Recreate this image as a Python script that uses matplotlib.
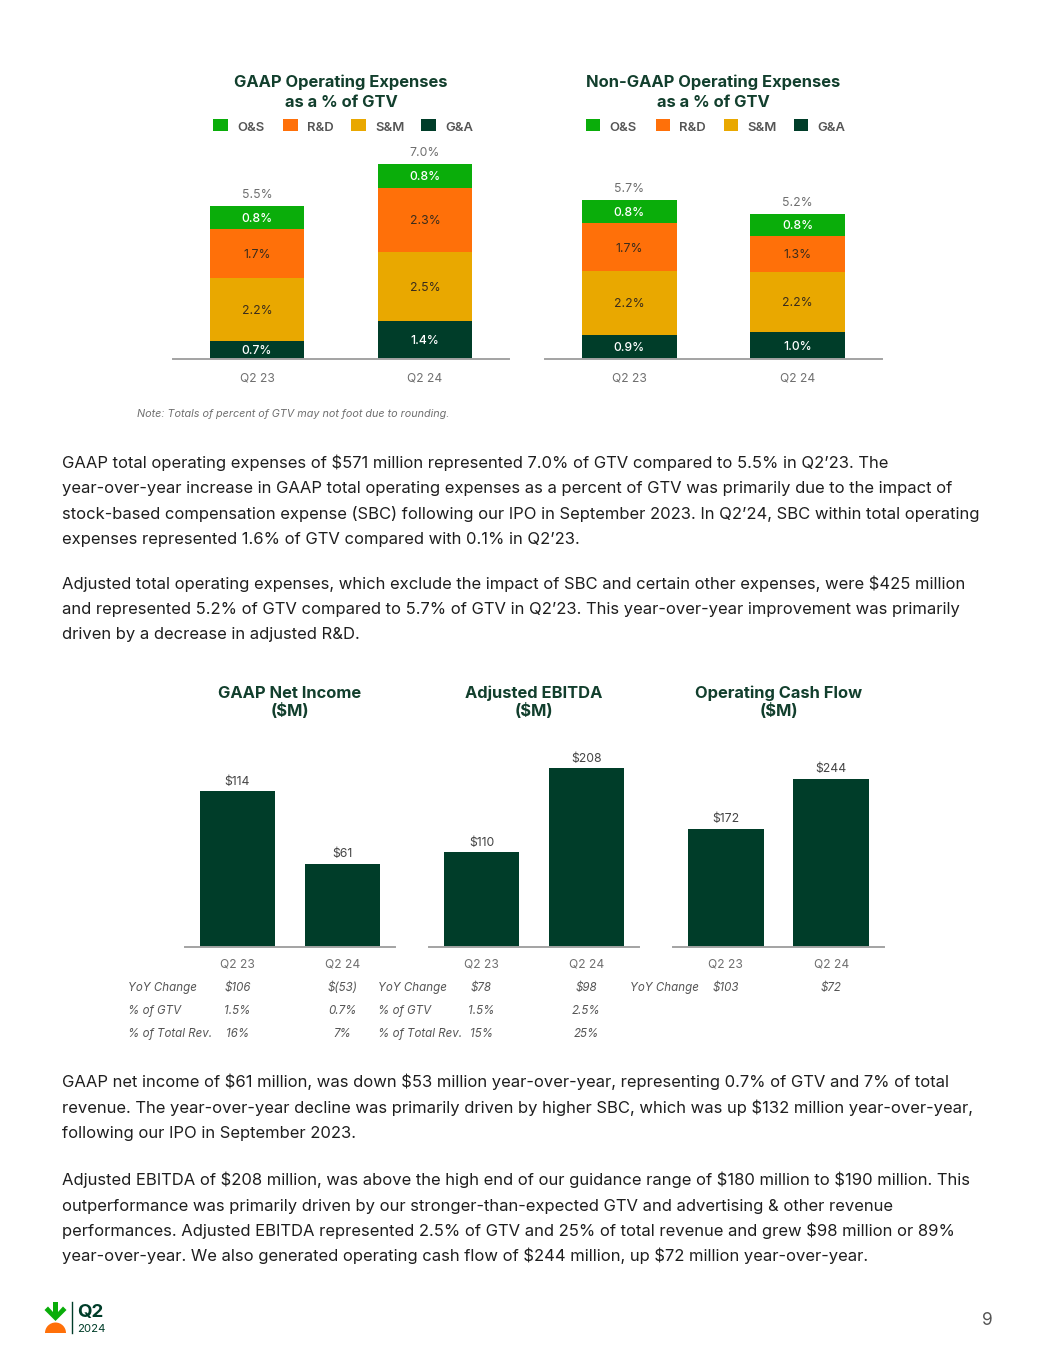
import numpy as np
import matplotlib
matplotlib.use("Agg")
import matplotlib.pyplot as plt
import matplotlib.transforms as mtransforms
from matplotlib.patches import Rectangle, Polygon, Wedge
from matplotlib.lines import Line2D

# ---------------- data ----------------
quarters = ["Q2 23", "Q2 24"]
legend_order = ["O&S", "R&D", "S&M", "G&A"]
stack_order = ["G&A", "S&M", "R&D", "O&S"]

gaap_os = [0.83, 0.86]
gaap_rd = [1.76, 2.30]
gaap_sm = [2.26, 2.48]
gaap_ga = [0.65, 1.36]
gaap_os_labels = ["0.8%", "0.8%"]
gaap_rd_labels = ["1.7%", "2.3%"]
gaap_sm_labels = ["2.2%", "2.5%"]
gaap_ga_labels = ["0.7%", "1.4%"]
gaap_total_labels = ["5.5%", "7.0%"]

nongaap_os = [0.82, 0.79]
nongaap_rd = [1.72, 1.29]
nongaap_sm = [2.29, 2.15]
nongaap_ga = [0.86, 0.97]
nongaap_os_labels = ["0.8%", "0.8%"]
nongaap_rd_labels = ["1.7%", "1.3%"]
nongaap_sm_labels = ["2.2%", "2.2%"]
nongaap_ga_labels = ["0.9%", "1.0%"]
nongaap_total_labels = ["5.7%", "5.2%"]

net_income = [114, 61]
net_income_labels = ["$114", "$61"]
adj_ebitda = [110, 208]
adj_ebitda_labels = ["$110", "$208"]
op_cash_flow = [172, 244]
op_cash_flow_labels = ["$172", "$244"]

ni_table = [("YoY Change", "$106", "$(53)"),
            ("% of GTV", "1.5%", "0.7%"),
            ("% of Total Rev.", "16%", "7%")]
ebitda_table = [("YoY Change", "$78", "$98"),
                ("% of GTV", "1.5%", "2.5%"),
                ("% of Total Rev.", "15%", "25%")]
ocf_table = [("YoY Change", "$103", "$72")]

para1 = ["GAAP total operating expenses of $571 million represented 7.0% of GTV compared to 5.5% in Q2\u201923. The",
         "year-over-year increase in GAAP total operating expenses as a percent of GTV was primarily due to the impact of",
         "stock-based compensation expense (SBC) following our IPO in September 2023. In Q2\u201924, SBC within total operating",
         "expenses represented 1.6% of GTV compared with 0.1% in Q2\u201923."]
para2 = ["Adjusted total operating expenses, which exclude the impact of SBC and certain other expenses, were $425 million",
         "and represented 5.2% of GTV compared to 5.7% of GTV in Q2\u201923. This year-over-year improvement was primarily",
         "driven by a decrease in adjusted R&D."]
para3 = ["GAAP net income of $61 million, was down $53 million year-over-year, representing 0.7% of GTV and 7% of total",
         "revenue. The year-over-year decline was primarily driven by higher SBC, which was up $132 million year-over-year,",
         "following our IPO in September 2023."]
para4 = ["Adjusted EBITDA of $208 million, was above the high end of our guidance range of $180 million to $190 million. This",
         "outperformance was primarily driven by our stronger-than-expected GTV and advertising & other revenue",
         "performances. Adjusted EBITDA represented 2.5% of GTV and 25% of total revenue and grew $98 million or 89%",
         "year-over-year. We also generated operating cash flow of $244 million, up $72 million year-over-year."]
note_text = "Note: Totals of percent of GTV may not foot due to rounding."

# ---------------- style ----------------
colors = {"O&S": "#0AAD0A", "R&D": "#FF7009", "S&M": "#E9A800", "G&A": "#003D29"}
seg_text_colors = {"O&S": "white", "R&D": "#3a2c1c", "S&M": "#3a2c1c", "G&A": "white"}
seg_text_weight = {"O&S": "medium", "R&D": "normal", "S&M": "normal", "G&A": "medium"}
BAR_GREEN = "#003D29"
TITLE_C = "#123f2d"
GRAY = "#6f6f6f"
AXIS_C = "#a3a3a3"
BODY_C = "#1e1e1e"

W, H = 1055, 1365
plt.rcParams['font.family'] = ['Inter', 'DejaVu Sans']
plt.rcParams['text.parse_math'] = False
fig = plt.figure(figsize=(W / 100, H / 100), dpi=100)
fig.patch.set_facecolor("white")
renderer = fig.canvas.get_renderer()
PX = mtransforms.Affine2D().scale(1 / W, -1 / H).translate(0, 1) + fig.transFigure


def fit_size(s, target_px, **kw):
    t = fig.text(0, 0, s, fontsize=10, **kw)
    w = t.get_window_extent(renderer).width
    t.remove()
    return 10 * target_px / w


def add_ax_px(left, right, top, bottom):
    ax = fig.add_axes([left / W, 1 - bottom / H, (right - left) / W, (bottom - top) / H])
    ax.set_facecolor("none")
    for s in ["top", "left", "right"]:
        ax.spines[s].set_visible(False)
    ax.spines["bottom"].set_color(AXIS_C)
    ax.spines["bottom"].set_linewidth(1.4)
    ax.set_xticks([])
    ax.set_yticks([])
    return ax


def ptext(x, y, s, **kw):
    return fig.text(x, y, s, transform=PX, **kw)


title_fs = fit_size("GAAP Operating Expenses", 202, weight="bold") * 1.06
tick_fs = 8.7
seg_fs = 8.8
legend_fs = 9.4


def stacked_chart(left, right, title, segs, seg_labels, total_labels):
    ax = add_ax_px(left, right, 140, 359)
    ax.set_xlim(-0.5, 1.5)
    ax.set_ylim(0, 7.85)
    x = np.arange(len(quarters))
    bottom = np.zeros(len(quarters))
    for cat in stack_order:
        vals = np.array(segs[cat], dtype=float)
        ax.bar(x, vals, width=0.565, bottom=bottom, color=colors[cat], linewidth=0)
        for xi, b, v, lbl in zip(x, bottom, vals, seg_labels[cat]):
            ax.annotate(lbl, (xi, b + v / 2), xytext=(0, -0.36 * seg_fs), textcoords="offset points",
                        ha="center", va="baseline", fontsize=seg_fs, color=seg_text_colors[cat],
                        weight=seg_text_weight[cat])
        bottom += vals
    for xi, tot, lbl in zip(x, bottom, total_labels):
        ax.annotate(lbl, (xi, tot), xytext=(0, 5.6), textcoords="offset points",
                    ha="center", va="baseline", fontsize=seg_fs, color=GRAY)
    tr = mtransforms.blended_transform_factory(ax.transData, PX)
    for xi, q in zip(x, quarters):
        ax.text(xi, 381.5, q, transform=tr, ha="center", va="baseline", fontsize=tick_fs, color=GRAY)
    cx = (left + right) / 2
    ptext(cx, 87.3, title[0], ha="center", va="baseline", fontsize=title_fs, weight="bold", color=TITLE_C)
    ptext(cx, 106.7, title[1], ha="center", va="baseline", fontsize=title_fs, weight="bold", color=TITLE_C)
    for off, cat in zip([-128, -58, 10, 80], legend_order):
        fig.patches.append(Rectangle((cx + off, 119.3), 14.5, 12.2, transform=PX,
                                     facecolor=colors[cat], edgecolor="none"))
        ptext(cx + off + 24, 130.7, cat, ha="left", va="baseline", fontsize=legend_fs,
              weight="semibold", color="#555555")
    return ax


stacked_chart(173, 509, ["GAAP Operating Expenses", "as a % of GTV"],
              {"O&S": gaap_os, "R&D": gaap_rd, "S&M": gaap_sm, "G&A": gaap_ga},
              {"O&S": gaap_os_labels, "R&D": gaap_rd_labels, "S&M": gaap_sm_labels, "G&A": gaap_ga_labels},
              gaap_total_labels)
stacked_chart(545, 882, ["Non-GAAP Operating Expenses", "as a % of GTV"],
              {"O&S": nongaap_os, "R&D": nongaap_rd, "S&M": nongaap_sm, "G&A": nongaap_ga},
              {"O&S": nongaap_os_labels, "R&D": nongaap_rd_labels, "S&M": nongaap_sm_labels,
               "G&A": nongaap_ga_labels},
              nongaap_total_labels)

note_fs = fit_size(note_text, 313, style="italic")
ptext(137, 417, note_text, ha="left", va="baseline", fontsize=note_fs, style="italic", color=GRAY)

# ---------------- body text ----------------
body_fs = fit_size(para1[2], 924)
LINE = 25.3


def paragraph(lines, y0):
    for i, s in enumerate(lines):
        ptext(62, y0 + i * LINE, s, ha="left", va="baseline", fontsize=body_fs, color=BODY_C)


paragraph(para1, 468)
paragraph(para2, 588.5)
paragraph(para3, 1087.5)
paragraph(para4, 1185.5)

# ---------------- bottom bar charts ----------------
table_fs = fit_size("YoY Change", 66, style="italic") * 1.04
val_fs = 8.8


def bar_chart(left, right, ymax, title, values, labels, table, label_x):
    ax = add_ax_px(left, right, 740, 946.7)
    ax.set_xlim(-0.5, 1.5)
    ax.set_ylim(0, ymax)
    x = np.arange(len(quarters))
    ax.bar(x, values, width=0.72, color=BAR_GREEN, linewidth=0)
    for xi, v, lbl in zip(x, values, labels):
        ax.annotate(lbl, (xi, v), xytext=(0, 4.8), textcoords="offset points",
                    ha="center", va="baseline", fontsize=val_fs, color="#444444")
    tr = mtransforms.blended_transform_factory(ax.transData, PX)
    for xi, q in zip(x, quarters):
        ax.text(xi, 967.7, q, transform=tr, ha="center", va="baseline", fontsize=tick_fs, color=GRAY)
    for r, row in enumerate(table):
        y = 991 + r * 23
        ptext(label_x, y, row[0], ha="left", va="baseline", fontsize=table_fs, style="italic", color="#555555")
        for xi, s in zip(x, row[1:]):
            ax.text(xi, y, s, transform=tr, ha="center", va="baseline", fontsize=table_fs,
                    style="italic", color="#555555")
    cx = (left + right) / 2
    ptext(cx, 698, title[0], ha="center", va="baseline", fontsize=title_fs, weight="bold", color=TITLE_C)
    ptext(cx, 715.5, title[1], ha="center", va="baseline", fontsize=title_fs, weight="bold", color=TITLE_C)
    return ax


bar_chart(185, 395, 151.8, ["GAAP Net Income", "($M)"], net_income, net_income_labels, ni_table, 128)
bar_chart(429, 639, 241, ["Adjusted EBITDA", "($M)"], adj_ebitda, adj_ebitda_labels, ebitda_table, 378)
bar_chart(673, 884, 301, ["Operating Cash Flow", "($M)"], op_cash_flow, op_cash_flow_labels, ocf_table, 630)

# ---------------- footer ----------------
leaf = [(53, 1302), (58, 1302), (58, 1312), (63, 1306.5), (66.5, 1310), (55.5, 1321),
        (44.5, 1310), (48, 1306.5), (53, 1312)]
fig.patches.append(Polygon(leaf, closed=True, transform=PX, facecolor="#0AAD0A", edgecolor="none"))
fig.patches.append(Wedge((55.5, 1333), 10.5, 180, 360, transform=PX, facecolor="#FF7009", edgecolor="none"))
fig.lines.append(Line2D([72, 72], [1302, 1333], transform=PX, color="#003D29", linewidth=1.0))
ptext(77, 1317, "Q2", ha="left", va="baseline", fontsize=13.5, weight="bold", color="#003D29")
ptext(77.5, 1332, "2024", ha="left", va="baseline", fontsize=8.2, color="#003D29")
ptext(987, 1325, "9", ha="center", va="baseline", fontsize=12.5, color="#555555")

fig.savefig("out.png", dpi=100, facecolor="white")
